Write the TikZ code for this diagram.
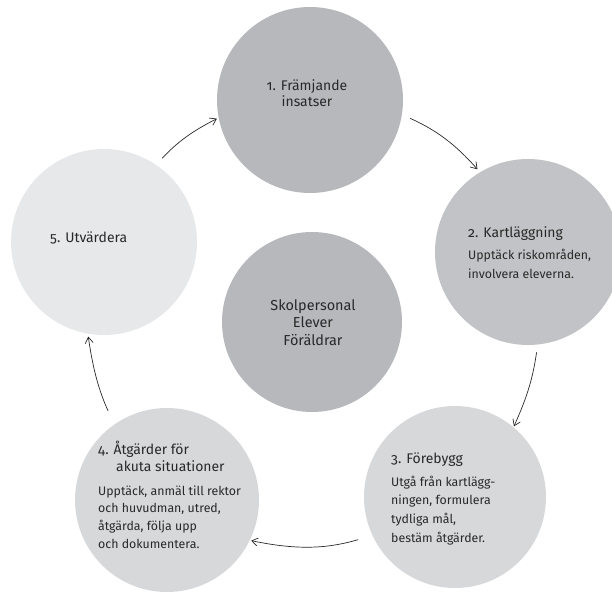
\documentclass[tikz,border=0pt]{standalone}
\usepackage{fontspec}
\setmainfont{Fira Sans}[Numbers=OldStyle]
\usetikzlibrary{arrows.meta}
\definecolor{cdark}{RGB}{183,184,188}
\definecolor{cmid}{RGB}{194,195,198}
\definecolor{clight}{RGB}{215,216,218}
\definecolor{cpale}{RGB}{231,232,233}
\definecolor{ink}{RGB}{40,40,40}
\tikzset{
  disc/.style={circle, draw=none, inner sep=0pt, outer sep=0pt, minimum size=#1},
  ttl/.style={font=\fontsize{14}{16.2}\selectfont, text=ink, inner sep=0pt, align=left},
  bdy/.style={font=\fontsize{12.4}{18.7}\selectfont, text=ink, inner sep=0pt, align=left},
  arr/.style={draw=ink, line width=0.7pt, -{Straight Barb[length=6pt,width=8pt]}},
}
\begin{document}
\begin{tikzpicture}[x=1bp,y=-1bp]
\useasboundingbox (0,0) rectangle (612,592);
\clip (0,0) rectangle (612,592);
% circles
\node[disc=186bp, fill=cdark] (c1) at (310,100) {};
\node[disc=186bp, fill=cmid] (c2) at (528,252) {};
\node[disc=182bp, fill=clight] (c3) at (455,497) {};
\node[disc=184bp, fill=clight] (c4) at (167,500) {};
\node[disc=186bp, fill=cpale] (c5) at (104,242) {};
\node[disc=180bp, fill=cdark] (c0) at (312,322) {};
% texts (base anchor = baseline of the last line)
\node[ttl, align=center, anchor=base] (t1) at (307,107) {1. Främjande\\insatser};
\node[ttl, anchor=base west] (t2) at (468,237) {2. Kartläggning};
\node[bdy, anchor=base west] (b2) at (468,278) {Upptäck riskområden,\\involvera eleverna.};
\node[ttl, anchor=base west] (t3) at (391,463) {3. Förebygg};
\node[bdy, anchor=base west] (b3) at (391,542) {Utgå från kartlägg-\\ningen, formulera\\tydliga mål,\\bestäm åtgärder.};
\node[ttl, anchor=base west] (t4) at (98,471) {4. Åtgärder för\\\hspace*{18bp}akuta situationer};
\node[bdy, anchor=base west, font=\fontsize{12.4}{17.7}\selectfont] (b4) at (98,548) {Upptäck, anmäl till rektor\\och huvudman, utred,\\åtgärda, följa upp\\och dokumentera.};
\node[ttl, anchor=base west] (t5) at (50,242) {5. Utvärdera};
\node[ttl, align=center, anchor=base, font=\fontsize{14.5}{17.5}\selectfont] (t0) at (313,345) {Skolpersonal\\Elever\\Föräldrar};
% arrows
\draw[arr, shorten <=9bp, shorten >=4bp] (c1.-9.6) to[bend left=12] (c2.121);
\draw[arr, shorten <=8bp, shorten >=1bp] (c2.-84.9) to[bend left=8] (c3.50.4);
\draw[arr, shorten <=15bp, shorten >=1.5bp] (c3.205.8) to[bend left=14] (c4.-26.3);
\draw[arr, shorten <=15bp, shorten >=3bp] (c4.125) to[bend left=8] (c5.260.4);
\draw[arr, shorten <=9bp, shorten >=2bp] (c5.56.6) to[bend left=10] (c1.191);
\end{tikzpicture}
\end{document}
